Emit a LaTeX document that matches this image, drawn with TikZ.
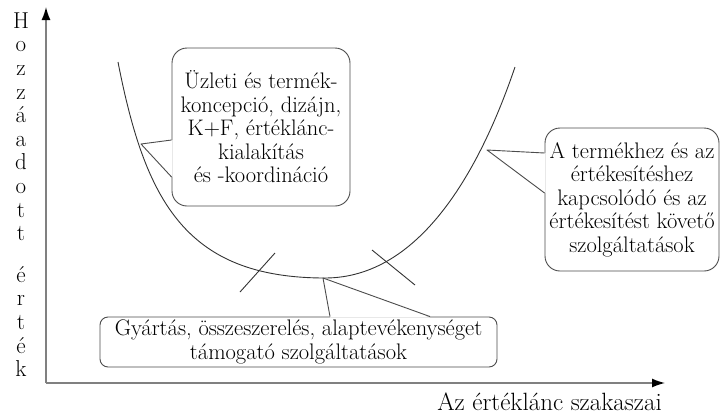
\documentclass[tikz,border=0pt]{standalone}
\usetikzlibrary{arrows.meta}
\begin{document}
\begin{tikzpicture}[x=1pt,y=-1pt,
  every node/.style={font=\fontsize{22.5}{23.5}\selectfont},
  axis/.style={draw=black!50,line width=1.4pt,-{Latex[length=13pt,width=9pt,color=black]}},
  curve/.style={draw=black!80,line width=0.9pt},
  callout/.style={draw=black!70,line width=0.9pt,fill=white,rounded corners=15pt,align=center,inner sep=0pt},
  tail/.style={draw=black!70,line width=0.9pt,line join=round}]
\useasboundingbox (0,0) rectangle (721,416);

% axes
\coordinate (O) at (46,383);
\coordinate (Ytip) at (46,7);
\coordinate (Xtip) at (665,383);
\draw[axis] (O) -- (Ytip);
\draw[axis] (O) -- (Xtip);
\node[anchor=base east,inner sep=0pt,font=\fontsize{25}{30}\selectfont] (xlabel) at (662,410) {Az értéklánc szakaszai};
\node[anchor=north,align=center,inner sep=0pt,font=\fontsize{23}{23.6}\selectfont] (ylabel) at (21,12.3)
  {H\\o\\z\\z\\á\\a\\d\\o\\t\\t\\[18pt]é\\r\\t\\é\\k};

% value curve
\coordinate (top1) at (118,62);
\coordinate (bottom) at (325,278);
\coordinate (top2) at (515,67);
\draw[curve] (top1) .. controls (145,200) and (185,278) .. (bottom)
  .. controls (420,278) and (480,170) .. (top2);
\coordinate (ltip) at (141,144);
\coordinate (rtip) at (487,150);
\coordinate (btip) at (323,278);

% stage borders
\coordinate (t1a) at (240,292);
\coordinate (t1b) at (275,253);
\coordinate (t2a) at (372,250);
\coordinate (t2b) at (415,285);
\draw[curve] (t1a) -- (t1b);
\draw[curve] (t2a) -- (t2b);

% callouts
\node[callout,minimum width=178pt,minimum height=158pt] (design) at (261,127)
  {Üzleti és termék-\\koncepció, dizájn,\\K+F, értéklánc-\\kialakítás\\és -koordináció};
\coordinate (dj1) at (design.west |- 0,140);
\coordinate (dj2) at (design.west |- 0,177);
\fill[white] ([xshift=1pt]dj1) -- (ltip) -- ([xshift=1pt]dj2) -- cycle;
\draw[tail] (dj1) -- (ltip) -- (dj2);

\node[callout,minimum width=174pt,minimum height=143pt] (service) at (632,199.5)
  {A termékhez és az\\értékesítéshez\\kapcsolódó és az\\értékesítést követő\\szolgáltatások};
\coordinate (sj1) at (service.west |- 0,153);
\coordinate (sj2) at (service.west |- 0,193);
\fill[white] ([xshift=1pt]sj1) -- (rtip) -- ([xshift=1pt]sj2) -- cycle;
\draw[tail] (sj1) -- (rtip) -- (sj2);

\node[callout,rounded corners=8pt,minimum width=397pt,minimum height=50pt] (mfg) at (298.5,342)
  {Gyártás, összeszerelés, alaptevékenységet\\támogató szolgáltatások};
\coordinate (mj1) at (mfg.north -| 330,0);
\coordinate (mj2) at (mfg.north -| 430,0);
\fill[white] ([yshift=-1pt]mj1) -- (btip) -- ([yshift=-1pt]mj2) -- cycle;
\draw[tail] (mj1) -- (btip) -- (mj2);
\end{tikzpicture}
\end{document}
